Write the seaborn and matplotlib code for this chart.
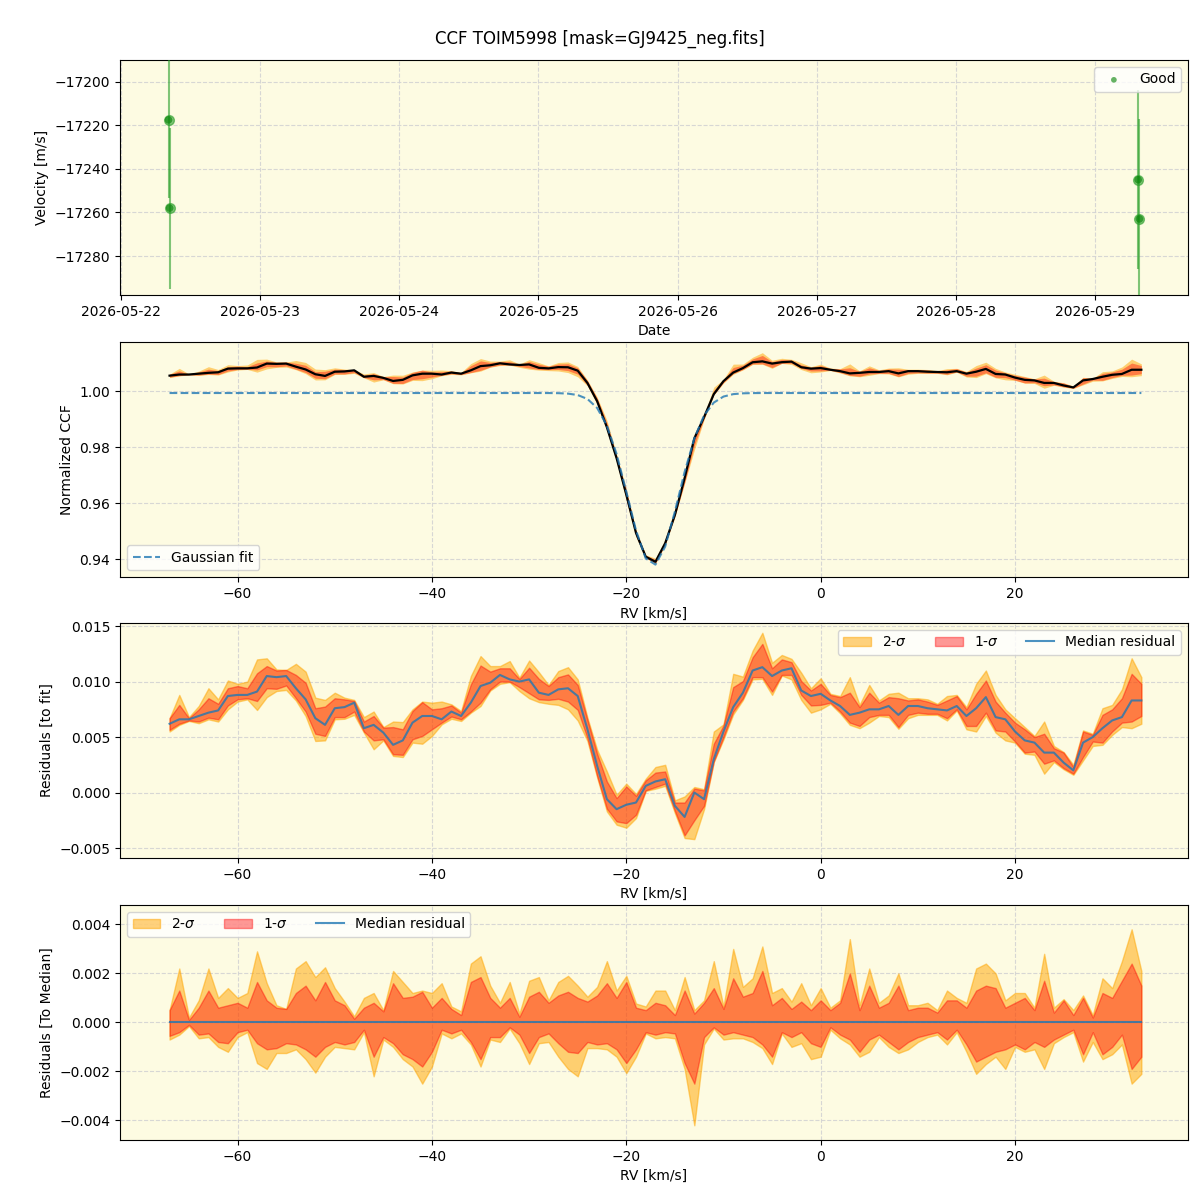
import matplotlib
matplotlib.use("Agg")
import matplotlib.pyplot as plt
import matplotlib.dates as mdates
import numpy as np
import pandas as pd
import seaborn as sns

# RV observations
obs_time = pd.to_datetime(["2026-05-22 08:12", "2026-05-22 08:24",
                           "2026-05-29 07:26", "2026-05-29 07:39"])
obs_vel = [-17217.5, -17258.0, -17245.0, -17263.0]
obs_err = [36.0, 37.0, 41.0, 46.0]

# CCF velocity grid (km/s)
rv = np.arange(-67, 34)

# Gaussian fit parameters
fit_base = 0.9993
fit_depth = 0.0615
fit_center = -17.25
fit_sigma = 2.6

# median residual to fit (units of 1e-4)
med_res = [62, 66, 66, 69, 72, 74, 87, 88, 88, 91,
           105, 104, 105, 94, 84, 67, 61, 76, 77, 81,
           58, 61, 54, 43, 47, 63, 69, 69, 66, 73,
           69, 81, 96, 99, 106, 102, 100, 102, 90, 88,
           93, 94, 87, 57, 24, -6, -15, -11, -9, 6,
           10, 12, -12, -22, 0, -6, 30, 55, 77, 90,
           110, 113, 105, 110, 112, 92, 87, 89, 83, 78,
           70, 72, 75, 75, 78, 70, 78, 78, 76, 75,
           74, 78, 69, 76, 86, 68, 66, 55, 47, 45,
           36, 36, 27, 20, 45, 50, 58, 65, 68, 83, 83]

# band offsets from the median (units of 1e-4)
up1 = [5, 13, 1, 6, 13, 6, 7, 8, 6, 16.5,
       9, 6, 5.5, 12, 15, 9, 16.5, 9, 7, 1.5,
       6, 8, 4.5, 16, 10, 10.5, 12.5, 6, 10, 5.5,
       3, 16.5, 18.5, 10, 6, 10, 2.3, 10.5, 12.5, 8,
       11, 12.5, 10, 8.5, 11, 16, 10, 16.5, 6, 5,
       8, 7, 3, 13, 3.6, 8, 14, 5.5, 18, 10.5,
       12, 21, 7, 10, 5.5, 8.5, 5, 9, 5, 8,
       20, 5, 15, 6, 8, 15, 5, 6, 6, 4,
       9, 9, 6, 13, 15, 14, 6, 8, 10, 5,
       17, 4, 9, 3, 10, 2, 12, 10, 17, 24, 15]
up2 = [5, 22, 2, 9, 22, 10, 14, 10, 12, 29,
       16, 7, 5.5, 22, 25, 18.5, 22.5, 14, 8.5, 2.5,
       10, 12, 5, 21, 16.5, 12, 13, 12, 16, 6.5,
       4.5, 24, 27, 15, 8, 16.5, 3.6, 17, 18.5, 9,
       16.5, 19, 15, 10.5, 14.5, 25, 13, 19, 7.7, 6.5,
       13, 13, 5, 18.5, 5, 9, 25, 6.5, 30, 14.5,
       18, 31, 12, 14, 8.5, 16, 7, 14, 6, 9,
       34, 7, 22, 8, 11, 20, 7, 7, 8, 5,
       13, 10, 8, 22, 24, 20, 9, 12, 12, 6,
       28, 6, 9.5, 5, 11, 3, 18, 14, 25, 38, 21]
lo1 = [-5.5, -4, -1, -5, -4.5, -8, -8.5, -4, -3, -8.5,
       -11, -10.5, -8.5, -9, -11, -14, -10, -8, -9, -8,
       -3, -14, -6, -8.5, -13, -15, -18, -12, -3, -4.5,
       -3, -8, -15, -6, -6, -2, -5, -12.5, -6, -4.5,
       -8.5, -12, -12.5, -8, -9, -8.5, -11, -16.6, -11, -4,
       -5, -4, -4.5, -16.6, -25, -6, -2, -5, -4, -5,
       -6, -9, -14, -4, -6, -4, -8.5, -10, -2, -5,
       -7, -12, -7, -5, -8, -11, -8, -6, -5, -4,
       -7, -3, -9, -16, -14, -12, -11, -9, -11, -8,
       -10, -7, -5, -3, -13, -4, -13, -10, -5, -19, -14]
lo2 = [-7, -5, -1.5, -6.5, -6, -10, -12, -6, -4, -16.6,
       -19, -12.5, -12.5, -11, -15, -20.5, -14, -10, -10.5, -11,
       -4, -22, -7, -10, -15, -18, -25, -18, -4.5, -6.5,
       -4.5, -9, -18, -7, -8, -2.5, -8.5, -17, -8.5, -8,
       -14, -19, -22, -10.5, -10.5, -11, -14, -20.7, -14, -4.5,
       -6.5, -6, -6.5, -19, -42, -9, -2.5, -7, -6.5, -6.5,
       -8, -10.5, -17, -4.5, -10, -8.5, -15, -14, -3, -6.5,
       -9, -14, -12, -6, -10, -12.5, -11, -8, -6, -5,
       -9, -4, -12, -21, -17, -14, -19, -10, -12, -11,
       -19, -8.5, -6, -4, -16, -8, -15, -13, -9, -25, -21]

scale = 1e-4
med = np.array(med_res) * scale
u1 = np.array(up1) * scale
u2 = np.array(up2) * scale
l1 = np.array(lo1) * scale
l2 = np.array(lo2) * scale

fit = fit_base - fit_depth * np.exp(-0.5 * ((rv - fit_center) / fit_sigma) ** 2)
ccf = fit + med

bg = "#fdfbe2"
c2 = "orange"
c1 = "red"

fig = plt.figure(figsize=(12, 12), dpi=100)
fig.suptitle("CCF TOIM5998 [mask=GJ9425_neg.fits]", fontsize=12, y=0.975)

left, width, height = 0.1, 0.89, 0.196
ax1 = fig.add_axes([left, 0.754, width, height])
ax2 = fig.add_axes([left, 0.519, width, height])
ax3 = fig.add_axes([left, 0.285, width, height])
ax4 = fig.add_axes([left, 0.050, width, height])

for ax in (ax1, ax2, ax3, ax4):
    ax.set_facecolor(bg)
    ax.grid(True, ls="--", color="lightgray", alpha=0.9)
    ax.set_axisbelow(True)

# panel 1: velocities
ax1.errorbar(obs_time, obs_vel, yerr=obs_err, fmt="o", color="tab:green",
             alpha=0.6, ms=7, elinewidth=1.5, zorder=3)
sns.scatterplot(x=obs_time, y=obs_vel, ax=ax1, color="green", s=30,
                alpha=0.6, edgecolor="none", label="Good", zorder=4)
ax1.set_ylim(-17298, -17190)
ax1.set_yticks([-17280, -17260, -17240, -17220, -17200])
ax1.xaxis.set_major_locator(mdates.DayLocator())
ax1.xaxis.set_major_formatter(mdates.DateFormatter("%Y-%m-%d"))
ax1.set_xlabel("Date")
ax1.set_ylabel("Velocity [m/s]")
ax1.legend(loc="upper right", markerscale=0.75)

# panel 2: CCF and fit
ax2.fill_between(rv, ccf + l2, ccf + u2, color=c2, alpha=0.5, lw=0)
ax2.fill_between(rv, ccf + l1, ccf + u1, color=c1, alpha=0.4, lw=0)
sns.lineplot(x=rv, y=ccf, ax=ax2, color="black", lw=1.6)
sns.lineplot(x=rv, y=fit, ax=ax2, color="tab:blue", lw=1.5, ls="--",
             alpha=0.8, label="Gaussian fit")
ax2.set_ylim(0.9336, 1.0175)
ax2.set_yticks([0.94, 0.96, 0.98, 1.00])
ax2.set_xlabel("RV [km/s]")
ax2.set_ylabel("Normalized CCF")
ax2.legend(loc="lower left")

# panel 3: residuals to fit
ax3.fill_between(rv, med + l2, med + u2, color=c2, alpha=0.5, lw=1,
                 label="2-$\\sigma$")
ax3.fill_between(rv, med + l1, med + u1, color=c1, alpha=0.4, lw=1,
                 label="1-$\\sigma$")
sns.lineplot(x=rv, y=med, ax=ax3, color="tab:blue", lw=1.5, alpha=0.8,
             label="Median residual")
ax3.set_ylim(-0.0059, 0.0153)
ax3.set_yticks([-0.005, 0.0, 0.005, 0.010, 0.015])
ax3.set_xlabel("RV [km/s]")
ax3.set_ylabel("Residuals [to fit]")
ax3.legend(loc="upper right", ncol=3)

# panel 4: residuals to median
zero = np.zeros_like(med)
ax4.fill_between(rv, l2, u2, color=c2, alpha=0.5, lw=1, label="2-$\\sigma$")
ax4.fill_between(rv, l1, u1, color=c1, alpha=0.4, lw=1, label="1-$\\sigma$")
sns.lineplot(x=rv, y=zero, ax=ax4, color="tab:blue", lw=1.5, alpha=0.8,
             label="Median residual")
ax4.set_ylim(-0.0048, 0.0048)
ax4.set_yticks([-0.004, -0.002, 0.0, 0.002, 0.004])
ax4.set_xlabel("RV [km/s]")
ax4.set_ylabel("Residuals [To Median]")
ax4.legend(loc="upper left", ncol=3)

for ax in (ax2, ax3, ax4):
    ax.set_xlim(-72.1, 37.8)
    ax.set_xticks([-60, -40, -20, 0, 20])

fig.savefig("out.png", dpi=100)
